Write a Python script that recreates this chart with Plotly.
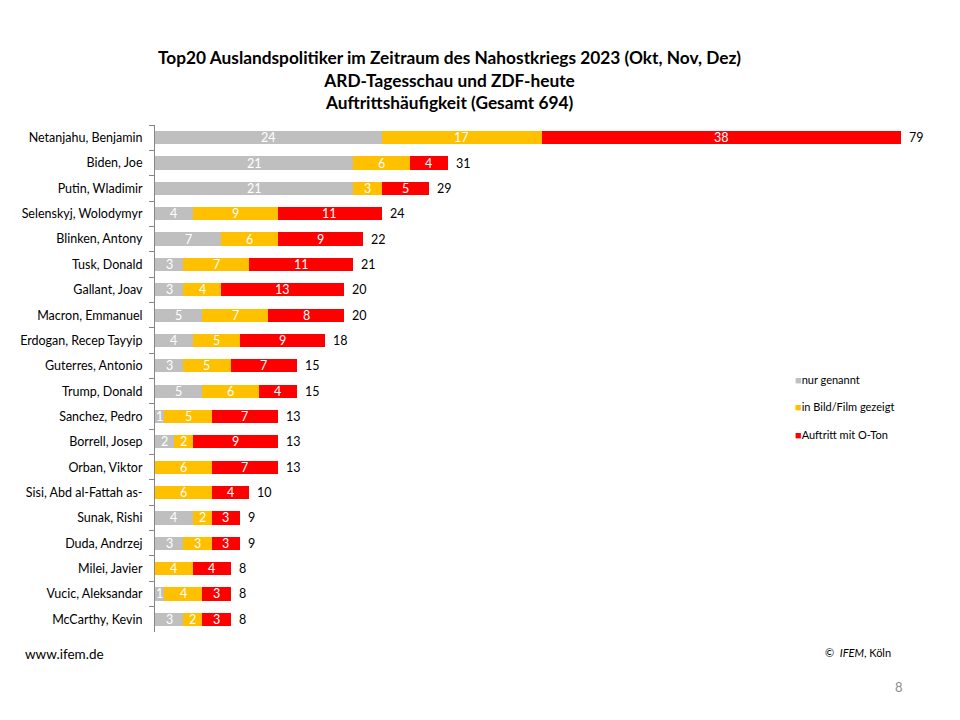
import plotly.graph_objects as go

names = ["Netanjahu, Benjamin", "Biden, Joe", "Putin, Wladimir", "Selenskyj, Wolodymyr",
         "Blinken, Antony", "Tusk, Donald", "Gallant, Joav", "Macron, Emmanuel",
         "Erdogan, Recep Tayyip", "Guterres, Antonio", "Trump, Donald", "Sanchez, Pedro",
         "Borrell, Josep", "Orban, Viktor", "Sisi, Abd al-Fattah as-", "Sunak, Rishi",
         "Duda, Andrzej", "Milei, Javier", "Vucic, Aleksandar", "McCarthy, Kevin"]
genannt = [24, 21, 21, 4, 7, 3, 3, 5, 4, 3, 5, 1, 2, 0, 0, 4, 3, 0, 1, 3]
gezeigt = [17, 6, 3, 9, 6, 7, 4, 7, 5, 5, 6, 5, 2, 6, 6, 2, 3, 4, 4, 2]
oton = [38, 4, 5, 11, 9, 11, 13, 8, 9, 7, 4, 7, 9, 7, 4, 3, 3, 4, 3, 3]
series_names = ["nur genannt", "in Bild/Film gezeigt", "Auftritt mit O-Ton"]
colors = ["#BFBFBF", "#FFC000", "#FF0000"]

FONT = "Lato"
series = [genannt, gezeigt, oton]

fig = go.Figure()
for vals, nm, col in zip(series, series_names, colors):
    fig.add_trace(go.Bar(y=names, x=vals, orientation="h", name=nm,
                         marker=dict(color=col, line=dict(width=0)),
                         width=0.52, showlegend=False, hoverinfo="skip"))

annotations = []
for i, nm in enumerate(names):
    cum = 0
    for vals in series:
        v = vals[i]
        if v > 0:
            annotations.append(dict(x=cum + v / 2, y=nm, xref="x", yref="y", text=str(v),
                                    showarrow=False, font=dict(family=FONT, size=12.5, color="white")))
        cum += v
    annotations.append(dict(x=cum, y=nm, xref="x", yref="y", text=str(cum), xanchor="left",
                            xshift=6, showarrow=False, font=dict(family=FONT, size=12.5, color="#000000")))

leg_y = [0.499, 0.444, 0.389]
for nm, col, yy in zip(series_names, colors, leg_y):
    annotations.append(dict(x=0.845, y=yy, xref="paper", yref="paper", xanchor="left",
                            text=f"<span style='color:{col}'>■</span>{nm}", showarrow=False,
                            font=dict(family=FONT, size=11, color="#000000")))

annotations.append(dict(x=-0.175, y=-0.063, xref="paper", yref="paper", xanchor="left",
                        text="www.ifem.de", showarrow=False, font=dict(family=FONT, size=13.5, color="#000000")))
annotations.append(dict(x=0.978, y=-0.058, xref="paper", yref="paper", xanchor="right",
                        text="©  <i>IFEM</i>, Köln", showarrow=False, font=dict(family=FONT, size=11, color="#000000")))
annotations.append(dict(x=0.993, y=-0.128, xref="paper", yref="paper", xanchor="right",
                        text="8", showarrow=False, font=dict(family=FONT, size=13, color="#8C8C8C")))

fig.update_layout(
    width=960, height=720, barmode="stack", bargap=0.48,
    paper_bgcolor="white", plot_bgcolor="white",
    margin=dict(l=142, r=58, t=117, b=96),
    title=dict(text="<b>Top20 Auslandspolitiker im Zeitraum des Nahostkriegs 2023 (Okt, Nov, Dez)<br>"
                    "ARD-Tagesschau und ZDF-heute<br>Auftrittshäufigkeit (Gesamt 694)</b>",
               x=0.46, xanchor="center", y=0.922, yanchor="middle",
               font=dict(family=FONT, size=17.3, color="#000000")),
    xaxis=dict(range=[0, 80], visible=False),
    yaxis=dict(autorange="reversed", showline=True, linecolor="#868686", linewidth=1,
               ticks="outside", tickson="boundaries", ticklen=5, tickcolor="#868686",
               ticklabelstandoff=9,
               tickfont=dict(family=FONT, size=12.5, color="#000000"), showgrid=False),
    annotations=annotations,
)
fig.write_html("out.html")
